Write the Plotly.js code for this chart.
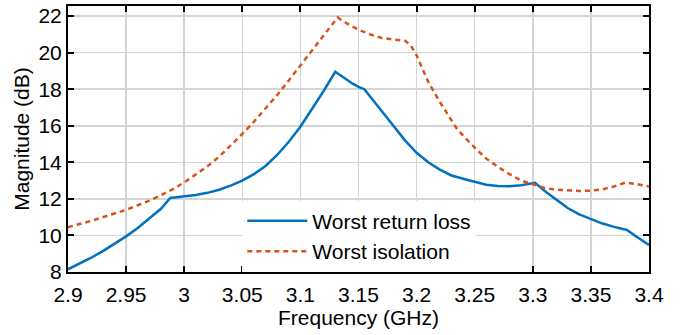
<!DOCTYPE html>
<html>
<head>
<meta charset="utf-8">
<script src="https://cdn.plot.ly/plotly-3.0.1.min.js"></script>
<style>html,body{margin:0;padding:0;background:#fff;}#chart{width:686px;height:335px;}</style>
</head>
<body>
<div id="chart"></div>
<script>
// Worst return loss (blue)
const freqReturn = [2.90,2.91,2.92,2.93,2.94,2.95,2.96,2.97,2.98,2.988,3.00,3.01,3.02,3.03,3.04,3.05,3.06,3.07,3.08,3.09,3.10,3.11,3.12,3.13,3.135,3.14,3.145,3.15,3.155,3.16,3.169,3.18,3.19,3.20,3.21,3.22,3.23,3.244,3.26,3.27,3.28,3.29,3.302,3.31,3.32,3.33,3.34,3.35,3.36,3.37,3.381,3.39,3.40];
const worstReturn = [8.15,8.45,8.78,9.14,9.53,9.95,10.41,10.91,11.46,12.05,12.12,12.21,12.33,12.5,12.72,13.0,13.35,13.8,14.4,15.12,15.95,16.9,17.9,18.95,18.72,18.5,18.3,18.13,18.0,17.6,16.86,15.98,15.2,14.52,14.0,13.6,13.28,13.03,12.77,12.7,12.69,12.74,12.88,12.45,11.95,11.5,11.15,10.88,10.65,10.47,10.3,9.9,9.48];
// Worst isolation (orange)
const freqIso = [2.90,2.92,2.94,2.95,2.96,2.97,2.98,2.99,3.00,3.01,3.02,3.03,3.04,3.05,3.06,3.07,3.08,3.09,3.10,3.11,3.12,3.132,3.14,3.15,3.16,3.17,3.18,3.19,3.195,3.20,3.21,3.22,3.235,3.25,3.26,3.27,3.28,3.29,3.30,3.31,3.32,3.33,3.34,3.35,3.36,3.37,3.38,3.39,3.40];
const worstIso = [10.45,10.8,11.2,11.4,11.65,11.9,12.2,12.52,12.9,13.32,13.78,14.3,14.9,15.55,16.22,16.92,17.68,18.48,19.3,20.15,21.0,21.92,21.6,21.25,21.0,20.8,20.72,20.65,20.4,19.85,18.4,17.3,15.8,14.8,14.2,13.75,13.35,13.0,12.8,12.6,12.5,12.45,12.43,12.45,12.52,12.68,12.9,12.8,12.68];
const xTicks = [2.9,2.95,3,3.05,3.1,3.15,3.2,3.25,3.3,3.35,3.4];
const xTickLabels = ['2.9','2.95','3','3.05','3.1','3.15','3.2','3.25','3.3','3.35','3.4'];
const yTicks = [8,10,12,14,16,18,20,22];

const font = {family: 'Liberation Sans, Arial, sans-serif', size: 21, color: '#000'};
const traces = [
  {x: freqReturn, y: worstReturn, name: 'Worst return loss', type: 'scatter', mode: 'lines',
   line: {color: '#0072BD', width: 2.5}, legendgroup: 'a'},
  {x: freqIso, y: worstIso, name: 'Worst isolation', type: 'scatter', mode: 'lines',
   line: {color: '#D95319', width: 2.5, dash: '5px,4px'}, legendgroup: 'b'}
];
const axisCommon = {
  showline: true, linecolor: '#000', linewidth: 2, mirror: 'ticks',
  ticks: 'inside', ticklen: 6, tickwidth: 2, tickcolor: '#000',
  showgrid: true, gridcolor: '#d4d4d4', gridwidth: 1.5, zeroline: false,
  tickfont: font
};
const layout = {
  width: 686, height: 335,
  margin: {l: 68, r: 37, t: 6, b: 63},
  paper_bgcolor: '#fff', plot_bgcolor: '#fff',
  font: font,
  showlegend: true,
  xaxis: Object.assign({}, axisCommon, {
    range: [2.9, 3.4], tickvals: xTicks, ticktext: xTickLabels, ticklabelstandoff: 3,
    title: {text: 'Frequency (GHz)', font: font, standoff: 5}
  }),
  yaxis: Object.assign({}, axisCommon, {
    range: [8, 22.55], tickvals: yTicks,
    title: {text: 'Magnitude (dB)', font: font, standoff: 3}
  }),
  legend: {
    x: 0.30, y: 0.268, xanchor: 'left', yanchor: 'top',
    bgcolor: '#fff', borderwidth: 0, font: font,
    itemwidth: 60, tracegroupgap: 0
  }
};
Plotly.newPlot('chart', traces, layout, {displayModeBar: false, staticPlot: true});
</script>
</body>
</html>
